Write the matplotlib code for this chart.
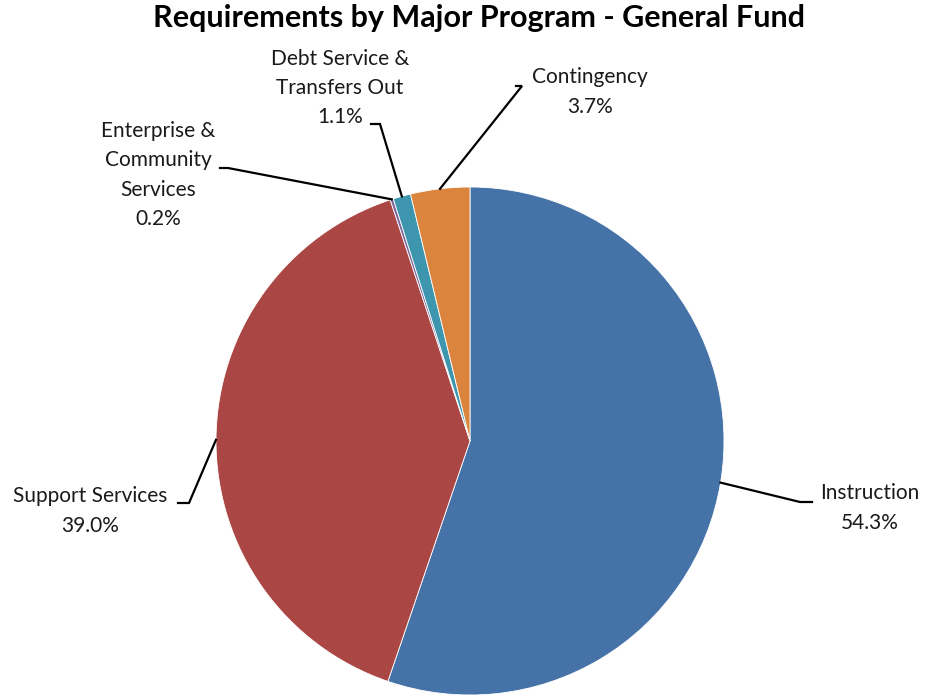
import numpy as np
import matplotlib
matplotlib.use("Agg")
import matplotlib.pyplot as plt

categories = ["Instruction", "Support Services", "Enterprise &\nCommunity\nServices",
              "Debt Service &\nTransfers Out", "Contingency"]
shares = [54.3, 39.0, 0.2, 1.1, 3.7]
pct_labels = ["54.3%", "39.0%", "0.2%", "1.1%", "3.7%"]
colors = ["#4572A7", "#AA4643", "#80699B", "#3D96AE", "#DB843D"]

plt.rcParams['font.family'] = ['Lato', 'DejaVu Sans']

W, H = 928, 698
fig = plt.figure(figsize=(W / 100, H / 100), dpi=100)
ax = fig.add_axes([0, 0, 1, 1])

cx, cy, R = 470, H - 441, 254
wedges, _ = ax.pie(shares, colors=colors, startangle=90, counterclock=False,
                   center=(cx, cy), radius=R, frame=True,
                   wedgeprops=dict(edgecolor='white', linewidth=0.6))
ax.set_xlim(0, W)
ax.set_ylim(0, H)
ax.set_aspect('equal')
ax.axis('off')

# label layout (pixel coords, y from top): text center, elbow, line end near text
layout = [
    dict(text=(870, 508), elbow=(800, 502), end=(812, 502)),
    dict(text=(90, 511), elbow=(189, 503), end=(178, 503)),
    dict(text=(158, 175), elbow=(228, 168), end=(220, 168)),
    dict(text=(340, 88), elbow=(380, 124), end=(371, 124)),
    dict(text=(590, 92), elbow=(522, 86), end=(516, 86)),
]

for w, cat, pl, lay in zip(wedges, categories, pct_labels, layout):
    mid = np.deg2rad((w.theta1 + w.theta2) / 2)
    ax_x = cx + R * np.cos(mid)
    ax_y = cy + R * np.sin(mid)
    ex, ey = lay['elbow']
    sx, sy = lay['end']
    ax.plot([ax_x, ex, sx], [ax_y, H - ey, H - sy], color='black', lw=1.6,
            solid_joinstyle='miter', zorder=3)
    tx, ty = lay['text']
    ax.text(tx, H - ty, cat + "\n" + pl, ha='center', va='center',
            fontsize=15, color='#1a1a1a', linespacing=1.58)

ax.text(479, H - 18, "Requirements by Major Program - General Fund",
        ha='center', va='center', fontsize=22, fontweight='bold', color='black')

fig.savefig("out.png", dpi=100)
